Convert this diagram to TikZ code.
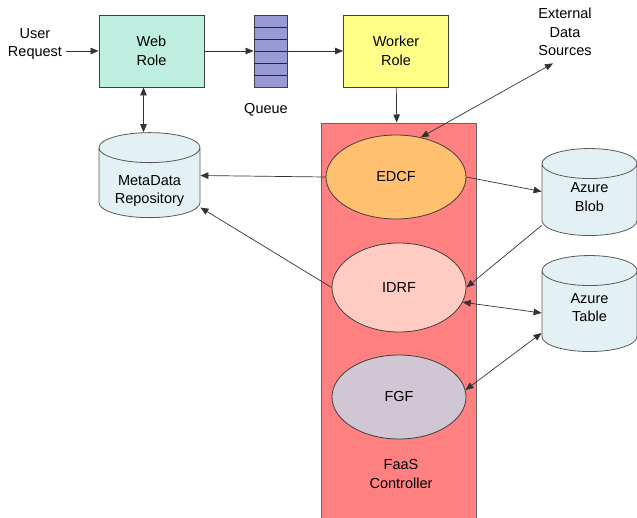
\documentclass[tikz,border=0pt]{standalone}
\usepackage{fontspec}
\setmainfont{Liberation Sans}
\usepackage{tikz}
\usetikzlibrary{positioning,calc,shapes.geometric,arrows.meta}

\definecolor{webcol}{RGB}{190,238,224}
\definecolor{queuecol}{RGB}{153,153,214}
\definecolor{workercol}{RGB}{255,255,136}
\definecolor{faascol}{RGB}{255,128,128}
\definecolor{edcfcol}{RGB}{255,192,112}
\definecolor{idrfcol}{RGB}{255,204,196}
\definecolor{fgfcol}{RGB}{208,198,212}
\definecolor{dbcol}{RGB}{227,241,245}

\begin{document}
\begin{tikzpicture}[x=1pt,y=-1pt,
	font=\fontsize{14.5}{18.5}\selectfont,
	box/.style={draw=black!75, line width=0.9pt, minimum width=105, minimum height=72, align=center},
	cyl/.style={cylinder, shape border rotate=90, aspect=4.5, draw=black!65, line width=0.8pt, fill=dbcol},
	func/.style={ellipse, draw=black!75, line width=0.8pt, minimum width=134, minimum height=86},
	arr/.style={-{Triangle[length=8pt,width=6.5pt]}, draw=black!80, line width=0.7pt},
	dblarr/.style={{Triangle[length=8pt,width=6.5pt]}-{Triangle[length=8pt,width=6.5pt]}, draw=black!80, line width=0.7pt}]
	\useasboundingbox (0,0) rectangle (637,517);
	
	% roles and queue
	\node[align=center] (user) at (35,44) {User\\Request};
	\node[box, fill=webcol] (web) at (151.5,51) {Web\\Role};
	\node[draw=black!75, line width=0.9pt, fill=queuecol, minimum width=33, minimum height=72] (queue) at (270.5,51) {};
	\foreach \i in {1,...,5} { \draw[black!85, line width=0.8pt] (254,{15+12*\i}) -- (287,{15+12*\i}); }
	\node (qlabel) at (266,110) {Queue};
	\node[box, fill=workercol] (worker) at (396,51) {Worker\\Role};
	\node[align=center] (ext) at (565,32) {External\\Data\\Sources};
	
	% faas controller
	\node[draw=black!60, line width=0.8pt, fill=faascol, minimum width=155, minimum height=400, anchor=north] (faas) at (398.5,122.5) {};
	\node[align=center] (faaslbl) at (401,474) {FaaS\\Controller};
	\node[func, fill=edcfcol, minimum width=140, minimum height=84] (edcf) at (396,177) {EDCF};
	\node[func, fill=idrfcol, minimum height=89] (idrf) at (399,287.5) {IDRF};
	\node[func, fill=fgfcol, minimum height=84] (fgf) at (399,397) {FGF};
	
	% storage
	\node[cyl, minimum width=101, minimum height=85] (meta) at (149.5,185.5) {};
	\node[align=center] (metatxt) at (149.5,191) {MetaData\\Repository};
	\node[cyl, minimum width=95, minimum height=87] (blob) at (589.5,202.5) {};
	\node[align=center] (blobtxt) at (589.5,197) {Azure\\Blob};
	\node[cyl, minimum width=95, minimum height=96] (table) at (589.5,314) {};
	\node[align=center] (tabletxt) at (589.5,307.5) {Azure\\Table};
	
	% connectors
	\draw[arr] (user.east |- web.west) -- (web.west);
	\draw[arr] (web) -- (queue);
	\draw[arr] (queue) -- (worker);
	\draw[arr] (worker) -- (faas);
	\draw[dblarr] ([xshift=-8pt]web.south) -- ([xshift=-6pt]meta.north);
	\draw[dblarr] (edcf.58) -- ([xshift=-12pt,yshift=-4pt]ext.south);
	\draw[arr] (edcf.west) -- ([yshift=10pt]meta.east);
	\draw[arr] (idrf.west) -- ([yshift=-22pt]meta.east);
	\draw[arr] (edcf.east) -- ([yshift=11pt]blob.west);
	\draw[arr] ([yshift=-23pt]blob.west) -- (idrf.east);
	\draw[dblarr] (idrf.-13) -- ([yshift=1pt]table.west);
	\draw[dblarr] ([yshift=-19pt]table.west) -- (fgf.6);
\end{tikzpicture}
\end{document}
